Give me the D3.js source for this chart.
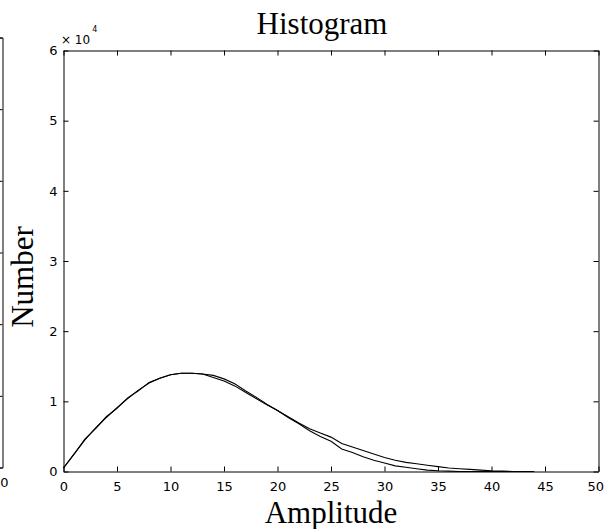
<!DOCTYPE html>
<html lang="en">
<head>
<meta charset="UTF-8">
<title>Histogram</title>
<script src="https://d3js.org/d3.v7.min.js"></script>
<style>
  body { margin: 0; background: #fff; }
  svg { display: block; }
</style>
</head>
<body>
<div id="chart"></div>
<script>
    // amplitude bins (0..44)
    const amplitude = d3.range(0, 45);

    // counts in units of 1e4
    const countsUpper = [0.05, 0.25, 0.45, 0.62, 0.77, 0.91, 1.04, 1.16, 1.26, 1.33,
        1.38, 1.40, 1.40, 1.39, 1.37, 1.32, 1.25, 1.15, 1.06, 0.96,
        0.87, 0.78, 0.69, 0.61, 0.55, 0.49, 0.40, 0.35, 0.30, 0.25,
        0.20, 0.16, 0.13, 0.11, 0.09, 0.07, 0.05, 0.04, 0.03, 0.02,
        0.01, 0.005, 0];
    const countsLower = [0.05, 0.25, 0.46, 0.61, 0.78, 0.90, 1.05, 1.15, 1.27, 1.33,
        1.38, 1.40, 1.40, 1.39, 1.34, 1.29, 1.22, 1.13, 1.04, 0.95,
        0.87, 0.77, 0.68, 0.58, 0.50, 0.43, 0.32, 0.27, 0.21, 0.16,
        0.12, 0.08, 0.06, 0.04, 0.02, 0.01, 0.005, 0, 0, 0,
        0, 0, 0, 0, 0];

    const xTicks = [0, 5, 10, 15, 20, 25, 30, 35, 40, 45, 50];
    const yTicks = [0, 1, 2, 3, 4, 5, 6];

    const W = 604, H = 529;
    const tickFont = "'DejaVu Sans', Verdana, sans-serif";
    const serif = "'Liberation Serif', 'Times New Roman', serif";

    const svg = d3.select("#chart").append("svg")
        .attr("width", W).attr("height", H)
        .style("font-family", tickFont);

    const x = d3.scaleLinear().domain([0, 50]).range([63.5, 598.5]);
    const y = d3.scaleLinear().domain([0, 6]).range([471.5, 50.5]);

    // partial neighbouring axes on the left edge
    const yLeft = d3.scaleLinear().domain([0, 6]).range([467.5, 37.5]);
    svg.append("g")
        .attr("transform", "translate(2.5,0)")
        .call(d3.axisRight(yLeft).tickValues(yTicks).tickSizeInner(-3).tickSizeOuter(-3).tickFormat(""))
        .call(g => g.selectAll("line, path").attr("stroke", "#000"));
    svg.append("text")
        .attr("x", 4.5).attr("y", 487)
        .attr("text-anchor", "middle")
        .style("font-size", "13px")
        .text("0");

    // axes, matlab style with inward ticks on all sides
    svg.append("g")
        .attr("transform", "translate(0," + y(0) + ")")
        .call(d3.axisBottom(x).tickValues(xTicks).tickSizeInner(-5).tickSizeOuter(0)
            .tickPadding(10).tickFormat(d3.format("d")))
        .call(g => g.selectAll("text").style("font-size", "13px").attr("fill", "#000"))
        .call(g => g.selectAll(".tick").filter(d => d === 50).select("text")
            .attr("text-anchor", "end").attr("x", 5));
    svg.append("g")
        .attr("transform", "translate(0," + y(6) + ")")
        .call(d3.axisTop(x).tickValues(xTicks).tickSizeInner(-5).tickSizeOuter(0).tickFormat(""));
    svg.append("g")
        .attr("transform", "translate(" + x(0) + ",0)")
        .call(d3.axisLeft(y).tickValues(yTicks).tickSizeInner(-5).tickSizeOuter(0)
            .tickPadding(6).tickFormat(d3.format("d")))
        .call(g => g.selectAll("text").style("font-size", "13px").attr("fill", "#000"));
    svg.append("g")
        .attr("transform", "translate(" + x(50) + ",0)")
        .call(d3.axisRight(y).tickValues(yTicks).tickSizeInner(-5).tickSizeOuter(0).tickFormat(""));
    svg.selectAll(".domain, .tick line").attr("stroke", "#000");
    svg.selectAll("g").style("font-family", tickFont);

    // exponent label
    const expo = svg.append("text")
        .attr("x", 61).attr("y", 44)
        .style("font-size", "12px");
    expo.append("tspan").text("\u00d7 10");
    expo.append("tspan").attr("dx", 2).attr("dy", -12).style("font-size", "8px").text("4");

    // curves
    const line = d3.line()
        .x((d, i) => x(amplitude[i]))
        .y(d => y(d));
    svg.append("path")
        .datum(countsUpper)
        .attr("fill", "none").attr("stroke", "#000").attr("stroke-width", 1.1)
        .attr("d", line);
    svg.append("path")
        .datum(countsLower)
        .attr("fill", "none").attr("stroke", "#000").attr("stroke-width", 1.1)
        .attr("d", line);

    // titles
    svg.append("text")
        .attr("x", 322).attr("y", 34)
        .attr("text-anchor", "middle")
        .style("font-family", serif).style("font-size", "31px")
        .text("Histogram");
    svg.append("text")
        .attr("x", 331).attr("y", 523)
        .attr("text-anchor", "middle")
        .style("font-family", serif).style("font-size", "31px")
        .text("Amplitude");
    svg.append("text")
        .attr("transform", "translate(33,277) rotate(-90)")
        .attr("text-anchor", "middle")
        .style("font-family", serif).style("font-size", "31px")
        .text("Number");
</script>
</body>
</html>
